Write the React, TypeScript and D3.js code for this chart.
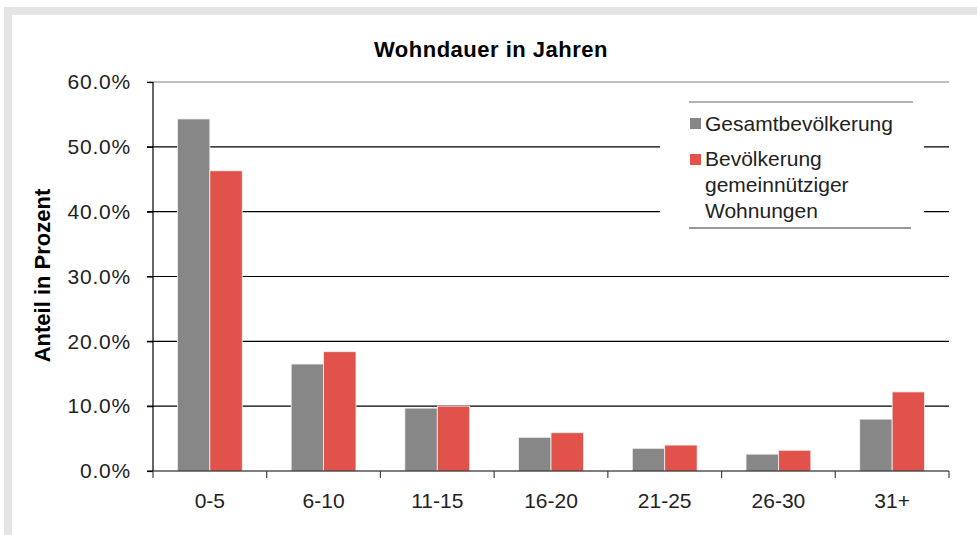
import { useEffect, useRef } from "react";
import * as d3 from "d3";

const categories = ["0-5", "6-10", "11-15", "16-20", "21-25", "26-30", "31+"];
const gesamt = [54.3, 16.5, 9.7, 5.2, 3.5, 2.6, 8.0];
const gemeinnuetzig = [46.3, 18.4, 10.0, 5.9, 4.0, 3.2, 12.2];
const yTicks = [0, 10, 20, 30, 40, 50, 60];
const seriesNames = ["Gesamtbevölkerung", "Bevölkerung gemeinnütziger Wohnungen"];
const colors = ["#878787", "#e0524a"];

const W = 977;
const H = 535;
const MARGIN = { top: 82, right: 28, bottom: 64, left: 153 };
const FONT = "'Liberation Sans', Arial, sans-serif";
const FS = 21;

export default function App() {
  const svgRef = useRef<SVGSVGElement>(null);

  useEffect(() => {
    if (!svgRef.current) return;
    const svg = d3.select(svgRef.current);
    svg.selectAll("*").remove();

    const innerW = W - MARGIN.left - MARGIN.right;
    const innerH = H - MARGIN.top - MARGIN.bottom;

    // frame
    svg.append("rect").attr("width", W).attr("height", H).attr("fill", "#fff");
    svg.append("rect").attr("x", 4).attr("y", 7).attr("width", W).attr("height", H)
      .attr("fill", "#e4e4e4");
    svg.append("rect").attr("x", 12).attr("y", 15).attr("width", W).attr("height", H)
      .attr("fill", "#fff");

    const g = svg.append("g").attr("transform", `translate(${MARGIN.left},${MARGIN.top})`);

    const x0 = d3.scaleBand().domain(categories).range([0, innerW]).paddingInner(0.43).paddingOuter(0.215);
    const x1 = d3.scaleBand().domain(["0", "1"]).range([0, x0.bandwidth()]);
    const y = d3.scaleLinear().domain([0, 60]).range([innerH, 0]);

    // gridlines
    g.selectAll(".grid")
      .data(yTicks.filter((t) => t > 0))
      .join("line")
      .attr("x1", -6)
      .attr("x2", innerW)
      .attr("y1", (d) => y(d))
      .attr("y2", (d) => y(d))
      .attr("stroke", (d) => (d === 60 ? "#808080" : "#000"))
      .attr("stroke-width", 1.2);

    // bars
    const series = [gesamt, gemeinnuetzig];
    series.forEach((vals, si) => {
      g.selectAll(`.bar${si}`)
        .data(vals)
        .join("rect")
        .attr("x", (_, i) => (x0(categories[i]) ?? 0) + (x1(String(si)) ?? 0))
        .attr("y", (d) => y(d))
        .attr("width", x1.bandwidth())
        .attr("height", (d) => innerH - y(d))
        .attr("fill", colors[si])
        .attr("stroke", "#f2f2f2")
        .attr("stroke-width", 0.8);
    });

    // y axis
    const yAxis = g.append("g")
      .call(d3.axisLeft(y).tickValues(yTicks).tickSize(6).tickPadding(16).tickFormat((d) => `${(+d).toFixed(1)}%`));
    yAxis.select(".domain").attr("stroke", "#000").attr("stroke-width", 1.2).attr("d", `M0,${innerH}V0`);
    yAxis.selectAll(".tick line").attr("stroke", "#000").attr("stroke-width", 1.2);
    yAxis.selectAll("text").attr("font-family", FONT).attr("font-size", FS).attr("fill", "#222")
      .attr("letter-spacing", 0.8);

    // x axis
    const xTickScale = d3.scaleLinear().domain([0, categories.length]).range([0, innerW]);
    const xa = g.append("g").attr("transform", `translate(0,${innerH})`);
    xa.append("line").attr("x1", -6).attr("x2", innerW).attr("stroke", "#000").attr("stroke-width", 1.2);
    xa.selectAll(".xt")
      .data(d3.range(categories.length + 1))
      .join("line")
      .attr("x1", (d) => xTickScale(d))
      .attr("x2", (d) => xTickScale(d))
      .attr("y1", 0)
      .attr("y2", 7)
      .attr("stroke", "#444")
      .attr("stroke-width", 1.2);
    xa.selectAll(".xl")
      .data(categories)
      .join("text")
      .attr("x", (d) => (x0(d) ?? 0) + x0.bandwidth() / 2)
      .attr("y", 37)
      .attr("text-anchor", "middle")
      .attr("font-family", FONT)
      .attr("font-size", FS)
      .attr("fill", "#222")
      .text((d) => d);

    // title
    svg.append("text")
      .attr("x", 491)
      .attr("y", 57)
      .attr("text-anchor", "middle")
      .attr("font-family", FONT)
      .attr("font-weight", "bold")
      .attr("font-size", 22)
      .attr("letter-spacing", 0.5)
      .attr("fill", "#000")
      .text("Wohndauer in Jahren");

    // y label
    svg.append("text")
      .attr("transform", `translate(50,${MARGIN.top + innerH / 2 - 1}) rotate(-90)`)
      .attr("text-anchor", "middle")
      .attr("font-family", FONT)
      .attr("font-weight", "bold")
      .attr("font-size", 22)
      .attr("fill", "#000")
      .text("Anteil in Prozent");

    // legend
    const lg = svg.append("g");
    lg.append("rect").attr("x", 660).attr("y", 96).attr("width", 264).attr("height", 138).attr("fill", "#fff");
    lg.append("line").attr("x1", 689).attr("x2", 913).attr("y1", 102).attr("y2", 102).attr("stroke", "#666").attr("stroke-width", 1.2);
    lg.append("line").attr("x1", 689).attr("x2", 911).attr("y1", 228).attr("y2", 228).attr("stroke", "#333").attr("stroke-width", 1.2);
    lg.append("rect").attr("x", 690).attr("y", 118).attr("width", 11).attr("height", 11).attr("fill", colors[0]);
    lg.append("rect").attr("x", 690).attr("y", 154).attr("width", 11).attr("height", 11).attr("fill", colors[1]);
    const legendLines = [
      { text: seriesNames[0], y: 131 },
      { text: "Bevölkerung", y: 166 },
      { text: "gemeinnütziger", y: 192 },
      { text: "Wohnungen", y: 218 },
    ];
    lg.selectAll(".lt")
      .data(legendLines)
      .join("text")
      .attr("x", 705)
      .attr("y", (d) => d.y)
      .attr("font-family", FONT)
      .attr("font-size", FS)
      .attr("fill", "#222")
      .text((d) => d.text);
  }, []);

  return (
    <svg
      ref={svgRef}
      width={W}
      height={H}
      style={{ display: "block", position: "absolute", left: 0, top: 0 }}
    />
  );
}
